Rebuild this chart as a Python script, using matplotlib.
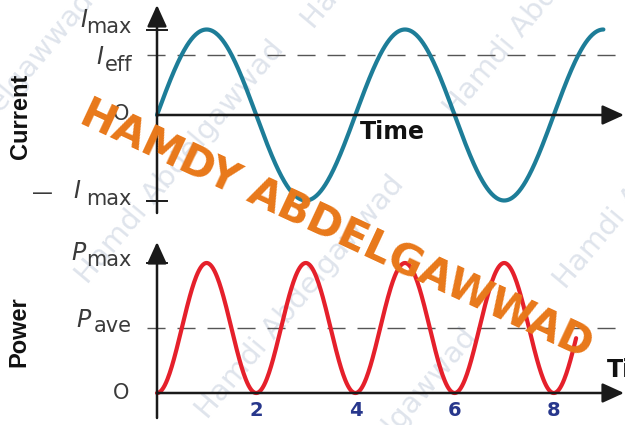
import numpy as np
import matplotlib
matplotlib.use("Agg")
import matplotlib.pyplot as plt

# ---- waveform values -------------------------------------------------
I_MAX = 1.0
I_EFF = I_MAX / np.sqrt(2.0)
PERIOD = 4.0                 # time units per current cycle
T_END_CURRENT = 9.0
T_END_POWER = 8.45
P_MAX = 1.0
P_AVE = 0.5
time_ticks = [2, 4, 6, 8]
time_tick_labels = ["2", "4", "6", "8"]

# ---- layout (pixels of a 625 x 425 canvas) ---------------------------
W, H = 625, 425
X0 = 157.0        # pixel column of t = 0
PXT = 49.6        # pixels per time unit
TOP_ROWS = (0, 222)
TOP_ZERO, TOP_SCALE = 115.0, 85.5
BOT_ROWS = (222, 425)
BOT_ZERO, BOT_SCALE = 393.0, 130.0

TEAL = "#1d7d98"
RED = "#e5202b"
AXIS = "#1a1a1a"
LABEL = "#3a3a3a"
NAVY = "#27378c"
ORANGE = "#e8781a"


def tx(p):
    return (p - X0) / PXT


def ty1(p):
    return (TOP_ZERO - p) / TOP_SCALE


def ty2(p):
    return (BOT_ZERO - p) / BOT_SCALE


def fpos(x, y):
    return x / W, 1 - y / H


fig = plt.figure(figsize=(W / 100, H / 100), dpi=100)
fig.patch.set_facecolor("white")

xlim = (tx(0), tx(W))
ax1 = fig.add_axes([0, (H - TOP_ROWS[1]) / H, 1, (TOP_ROWS[1] - TOP_ROWS[0]) / H])
ax1.set_xlim(xlim)
ax1.set_ylim(ty1(TOP_ROWS[1]), ty1(TOP_ROWS[0]))
ax2 = fig.add_axes([0, 0, 1, (BOT_ROWS[1] - BOT_ROWS[0]) / H])
ax2.set_xlim(xlim)
ax2.set_ylim(ty2(BOT_ROWS[1]), ty2(BOT_ROWS[0]))
for ax in (ax1, ax2):
    ax.axis("off")

# ---- faint background signature --------------------------------------
faint = dict(fontsize=21, color="#dfe4ec", rotation=50, rotation_mode="anchor",
             va="baseline", zorder=-1)
for ha, x, y in [("left", 313, 30), ("left", 455, 118), ("left", 565, 290),
                 ("right", 95, 2), ("right", 285, 50), ("right", 405, 185),
                 ("right", 478, 338)]:
    fig.text(*fpos(x, y), "Hamdi Abdelgawwad", ha=ha, **faint)

arrow = dict(arrowstyle="-|>,head_length=1.1,head_width=0.5", lw=1.8,
             color=AXIS, mutation_scale=12, shrinkA=0, shrinkB=0)
dash = (0, (13, 8.6))

# ---- current panel ---------------------------------------------------
t_i = np.linspace(0, T_END_CURRENT, 600)
ax1.plot(t_i, I_MAX * np.sin(2 * np.pi * t_i / PERIOD), color=TEAL, lw=3.0,
         solid_capstyle="round", zorder=3)
ax1.plot([tx(147), tx(W)], [I_EFF, I_EFF], color="#555555", lw=1.0, ls=dash, zorder=2)
ax1.annotate("", xy=(0, ty1(5)), xytext=(0, ty1(213)), arrowprops=arrow)
ax1.annotate("", xy=(tx(624), 0), xytext=(0, 0), arrowprops=arrow)
for yv in (I_MAX, -I_MAX):
    ax1.plot([tx(147), tx(167)], [yv, yv], color=AXIS, lw=1.4)

lab_i = dict(fontsize=17, style="italic", color=LABEL, ha="right", va="baseline")
lab_s = dict(fontsize=15, color=LABEL, ha="right", va="baseline")
ax1.text(tx(87), ty1(27), "I", **lab_i)
ax1.text(tx(132), ty1(33), "max", **lab_s)
ax1.text(tx(103), ty1(64), "I", **lab_i)
ax1.text(tx(132), ty1(71), "eff", **lab_s)
ax1.text(tx(80), ty1(198), "I", **lab_i)
ax1.text(tx(132), ty1(205), "max", **lab_s)
ax1.text(tx(42), ty1(199), "\u2014", fontsize=15, color=LABEL, ha="center", va="baseline")
ax1.text(tx(121), ty1(114), "O", fontsize=15, color=LABEL, ha="center", va="center")
ax1.text(tx(360), ty1(132), "Time", fontsize=17, fontweight="bold", color="#111111",
         ha="left", va="center")

# ---- power panel -----------------------------------------------------
t_p = np.linspace(0, T_END_POWER, 600)
ax2.plot(t_p, P_MAX * np.sin(2 * np.pi * t_p / PERIOD) ** 2, color=RED, lw=3.0,
         solid_capstyle="round", zorder=3)
ax2.plot([tx(147), tx(W)], [P_AVE, P_AVE], color="#555555", lw=1.0, ls=dash, zorder=2)
ax2.annotate("", xy=(0, ty2(242)), xytext=(0, ty2(418)), arrowprops=arrow)
ax2.annotate("", xy=(tx(624), 0), xytext=(0, 0), arrowprops=arrow)
ax2.plot([tx(147), tx(167)], [P_MAX, P_MAX], color=AXIS, lw=1.4)

ax2.text(tx(86), ty2(260), "P", **lab_i)
ax2.text(tx(91), ty2(327), "P", **lab_i)
ax2.text(tx(132), ty2(266), "max", **lab_s)
ax2.text(tx(132), ty2(332), "ave", **lab_s)
ax2.text(tx(121), ty2(393), "O", fontsize=15, color=LABEL, ha="center", va="center")
ax2.text(tx(607), ty2(370), "Time", fontsize=17, fontweight="bold", color="#111111",
         ha="left", va="center")
for tv, tl in zip(time_ticks, time_tick_labels):
    ax2.text(tv, ty2(411), tl, fontsize=14, fontweight="bold", color=NAVY,
             ha="center", va="center")

# ---- axis titles -----------------------------------------------------
side = dict(rotation=90, ha="center", va="center", fontsize=17, fontweight="bold",
            color="#111111", family=["Liberation Sans", "DejaVu Sans"])
fig.text(*fpos(21, 116), "Current", **side)
fig.text(*fpos(19, 332), "Power", **side)

# ---- signature -------------------------------------------------------
fig.text(*fpos(336, 230), "HAMDY ABDELGAWWAD", fontsize=30, fontweight="bold",
         color=ORANGE, rotation=-25, rotation_mode="anchor", ha="center",
         va="center", zorder=10)

fig.savefig("out.png", dpi=100, facecolor="white")
